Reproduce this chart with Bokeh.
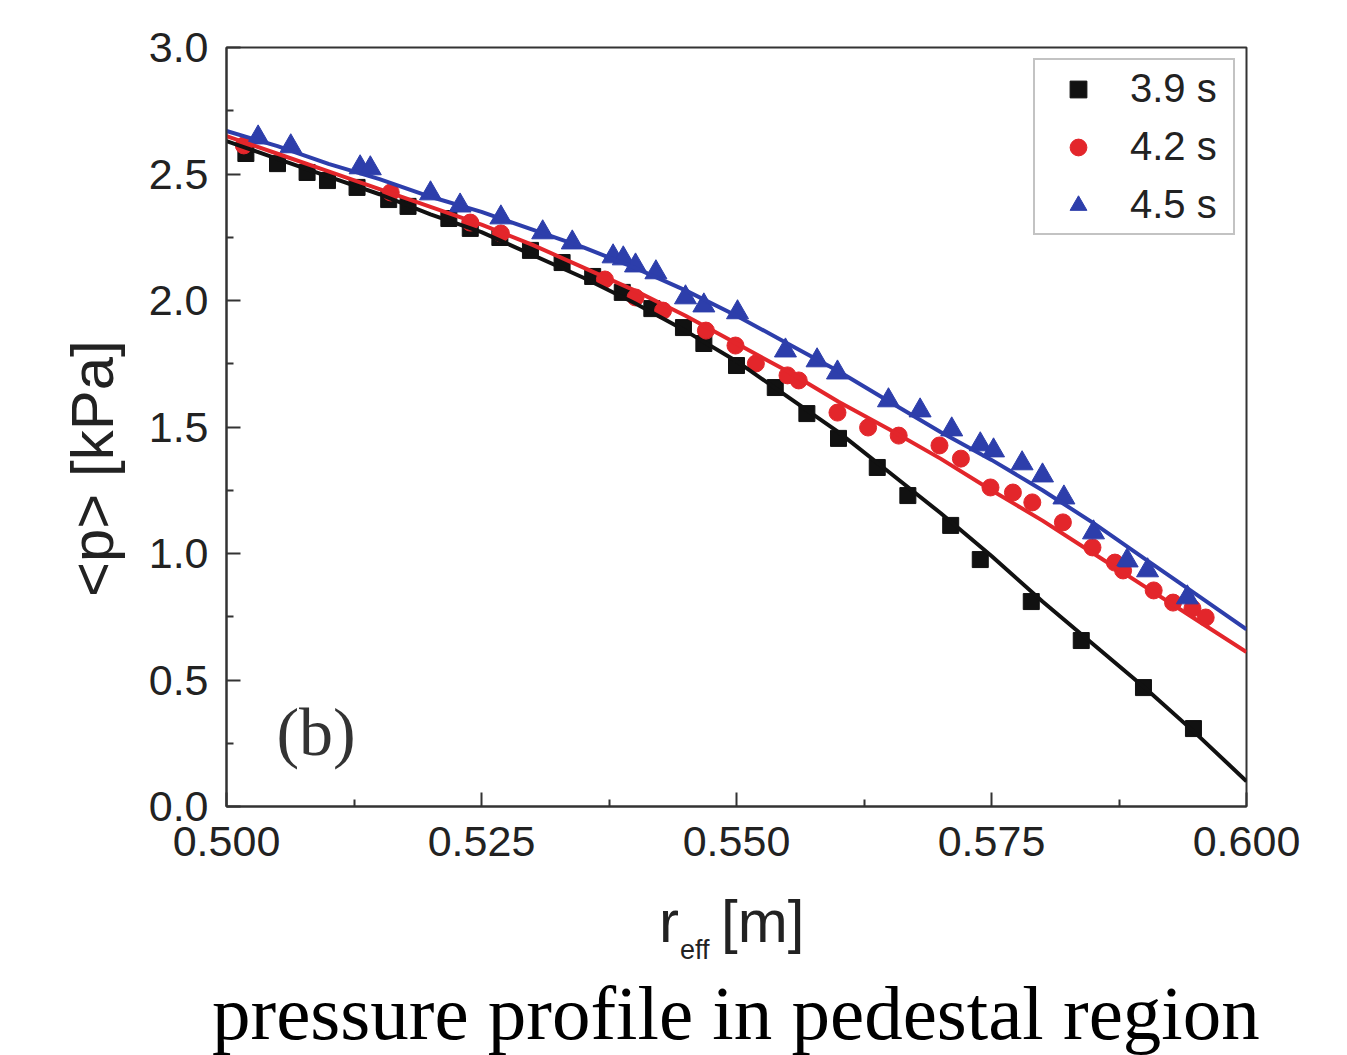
from bokeh.plotting import figure
from bokeh.models import FixedTicker, NumeralTickFormatter, Label, Range1d, Legend, LegendItem, Div
from bokeh.layouts import column
from bokeh.embed import file_html
from bokeh.resources import INLINE

# ---- data ----
r_39 = [0.5019, 0.5050, 0.5079, 0.5099, 0.5128, 0.5159, 0.5178, 0.5218, 0.5239, 0.5268,
        0.5298, 0.5329, 0.5359, 0.5388, 0.5417, 0.5448, 0.5468, 0.5500, 0.5538, 0.5569,
        0.5600, 0.5638, 0.5668, 0.5710, 0.5739, 0.5789, 0.5838, 0.5899, 0.5948]
p_39 = [2.581, 2.541, 2.506, 2.474, 2.447, 2.399, 2.372, 2.324, 2.285, 2.249,
        2.198, 2.150, 2.095, 2.032, 1.968, 1.893, 1.830, 1.743, 1.656, 1.553,
        1.455, 1.340, 1.229, 1.111, 0.976, 0.810, 0.656, 0.470, 0.308]

r_42 = [0.5017, 0.5161, 0.5239, 0.5269, 0.5371, 0.5401, 0.5428, 0.5470, 0.5499, 0.5519,
        0.5550, 0.5561, 0.5599, 0.5629, 0.5659, 0.5699, 0.5720, 0.5749, 0.5771, 0.5790,
        0.5820, 0.5849, 0.5871, 0.5879, 0.5909, 0.5928, 0.5947, 0.5960]
p_42 = [2.613, 2.427, 2.308, 2.265, 2.083, 2.012, 1.960, 1.881, 1.822, 1.751,
        1.704, 1.684, 1.557, 1.498, 1.466, 1.427, 1.375, 1.261, 1.241, 1.202,
        1.123, 1.024, 0.964, 0.933, 0.854, 0.806, 0.783, 0.747]

r_45 = [0.5031, 0.5063, 0.5131, 0.5141, 0.5200, 0.5229, 0.5269, 0.5310, 0.5339, 0.5379,
        0.5389, 0.5401, 0.5421, 0.5450, 0.5468, 0.5501, 0.5548, 0.5579, 0.5599, 0.5649,
        0.5680, 0.5711, 0.5739, 0.5752, 0.5780, 0.5800, 0.5821, 0.5850, 0.5883, 0.5903,
        0.5942]
p_45 = [2.644, 2.609, 2.526, 2.522, 2.423, 2.375, 2.328, 2.269, 2.229, 2.174,
        2.166, 2.138, 2.111, 2.012, 1.980, 1.953, 1.802, 1.763, 1.715, 1.605,
        1.565, 1.490, 1.431, 1.407, 1.356, 1.308, 1.221, 1.083, 0.972, 0.933,
        0.826]

# fitted curves
r_fit = [0.500, 0.505, 0.510, 0.515, 0.520, 0.525, 0.530, 0.535, 0.540, 0.545, 0.550,
         0.555, 0.560, 0.565, 0.570, 0.575, 0.580, 0.585, 0.590, 0.595, 0.600]
fit_39 = [2.63, 2.56, 2.49, 2.42, 2.34, 2.27, 2.18, 2.09, 1.99, 1.88, 1.76,
          1.62, 1.48, 1.32, 1.16, 0.99, 0.81, 0.64, 0.47, 0.29, 0.10]
fit_42 = [2.65, 2.58, 2.51, 2.44, 2.37, 2.30, 2.22, 2.13, 2.04, 1.94, 1.83,
          1.72, 1.60, 1.49, 1.375, 1.25, 1.13, 1.00, 0.87, 0.74, 0.61]
fit_45 = [2.67, 2.61, 2.54, 2.48, 2.41, 2.35, 2.28, 2.21, 2.13, 2.04, 1.94,
          1.83, 1.72, 1.60, 1.48, 1.37, 1.25, 1.12, 0.98, 0.84, 0.70]

series_labels = ["3.9 s", "4.2 s", "4.5 s"]
x_ticks = [0.500, 0.525, 0.550, 0.575, 0.600]
x_minor = [0.5125, 0.5375, 0.5625, 0.5875]
y_ticks = [0.0, 0.5, 1.0, 1.5, 2.0, 2.5, 3.0]
y_minor = [0.25, 0.75, 1.25, 1.75, 2.25, 2.75]

y_title = "<p> [kPa]"
x_title_main = "r"
x_title_sub = "eff"
x_title_unit = "[m]"
panel_tag = "(b)"
caption = "pressure profile in pedestal region"

BLACK = "#111111"
RED = "#e3262b"
BLUE = "#2d3eab"
AX = "#333333"
TXT = "#222222"
SANS = "Liberation Sans"
SERIF = "Liberation Serif"

W = 1339
p = figure(width=W, height=880, x_range=Range1d(0.5, 0.6), y_range=Range1d(0, 3),
           output_backend="svg", toolbar_location=None,
           min_border_left=226, min_border_top=47, min_border_right=93, min_border_bottom=74)
p.xgrid.visible = False
p.ygrid.visible = False
p.background_fill_color = "white"
p.border_fill_color = "white"
p.outline_line_color = AX
p.outline_line_width = 2
p.outline_line_alpha = 1

for ax in (p.xaxis[0], p.yaxis[0]):
    ax.axis_line_color = AX
    ax.axis_line_width = 2
    ax.major_tick_in = 14
    ax.major_tick_out = 0
    ax.minor_tick_in = 7
    ax.minor_tick_out = 0
    ax.major_tick_line_color = AX
    ax.major_tick_line_width = 2
    ax.minor_tick_line_color = AX
    ax.minor_tick_line_width = 2
    ax.major_label_text_font = SANS
    ax.major_label_text_font_size = "43px"
    ax.major_label_text_color = TXT

p.xaxis.ticker = FixedTicker(ticks=x_ticks, minor_ticks=x_minor)
p.yaxis.ticker = FixedTicker(ticks=y_ticks, minor_ticks=y_minor)
p.xaxis.formatter = NumeralTickFormatter(format="0.000")
p.yaxis.formatter = NumeralTickFormatter(format="0.0")
p.xaxis.major_label_standoff = 20
p.yaxis.major_label_standoff = 18

# trailing no-break spaces shift the rotated title toward the bottom, as in the reference
p.yaxis.axis_label = y_title + "\u00a0" * 5
p.yaxis.axis_label_text_font = SANS
p.yaxis.axis_label_text_font_size = "60px"
p.yaxis.axis_label_text_font_style = "normal"
p.yaxis.axis_label_text_color = TXT
p.yaxis.axis_label_standoff = 20

s1 = p.scatter(r_39, p_39, marker="square", size=16, color=BLACK)
s2 = p.scatter(r_42, p_42, marker="circle", size=17, color=RED)
s3 = p.scatter(r_45, p_45, marker="triangle", size=22, color=BLUE)

p.line(r_fit, fit_39, line_color=BLACK, line_width=4)
p.line(r_fit, fit_42, line_color=RED, line_width=4)
p.line(r_fit, fit_45, line_color=BLUE, line_width=4)

legend = Legend(items=[LegendItem(label=series_labels[0], renderers=[s1]),
                       LegendItem(label=series_labels[1], renderers=[s2]),
                       LegendItem(label=series_labels[2], renderers=[s3])],
                location="top_right", margin=11, padding=6, spacing=13,
                glyph_width=74, glyph_height=42, label_height=42, label_width=97,
                label_standoff=15, label_text_font=SANS, label_text_font_size="40px",
                label_text_color=TXT, border_line_color="#888888", border_line_width=2,
                background_fill_color="white", background_fill_alpha=1)
p.add_layout(legend)

# panel tag
p.add_layout(Label(x=0.5049, y=0.293, text=panel_tag, text_font=SERIF, text_font_size="68px",
                   text_color=AX, text_baseline="alphabetic"))

# x-axis title (with subscript) and caption, as real HTML text below the figure
def span(txt, left, top, font, size, lh, color):
    return ('<span style="position:absolute;left:%dpx;top:%dpx;font-family:\'%s\';'
            'font-size:%dpx;line-height:%dpx;color:%s;white-space:nowrap;">%s</span>'
            % (left, top, font, size, lh, color, txt))

html = ('<div style="position:relative;width:%dpx;height:167px;">' % W
        + span(x_title_main, 659, 12, SANS, 60, 60, TXT)
        + span(x_title_sub, 680, 57, SANS, 27, 27, TXT)
        + span(x_title_unit.replace("<", "&lt;"), 721, 12, SANS, 60, 60, TXT)
        + span(caption, 212, 103, SERIF, 77, 60, "#000000")
        + '</div>')
below = Div(text=html, width=W, height=167, margin=0)

layout = column(p, below, spacing=0)
open("out.html", "w").write(file_html(layout, INLINE))
